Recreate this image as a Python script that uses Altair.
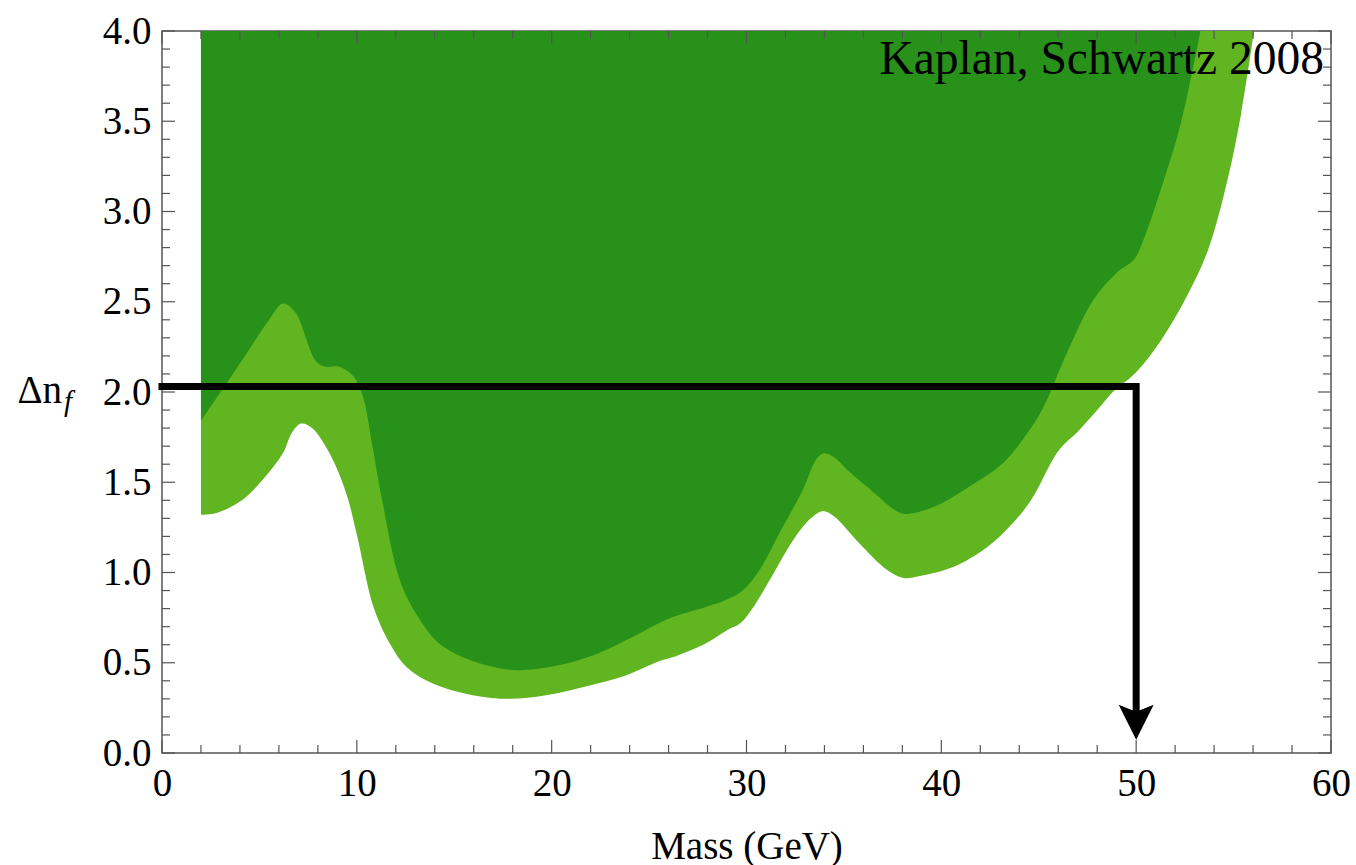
import altair as alt
import pandas as pd

# ---- data ----
light_x = [2.0, 2.8, 4.1, 5.3, 6.2, 6.7, 7.15, 7.7, 8.6, 9.45, 10.0, 10.85, 11.7, 12.56,
           13.93, 15.95, 17.85, 19.7, 21.8, 23.8, 25.55, 26.2, 27.95, 29.0, 29.7, 30.3, 31.2,
           32.4, 33.3, 33.9, 34.5, 35.8, 37.2, 38.05, 38.9, 40.6, 42.35, 43.55, 44.6, 45.8,
           46.3, 47.0, 48.0, 48.8, 50.0, 51.3, 52.6, 53.7, 54.7, 55.4, 56.05]
light_y = [1.32, 1.33, 1.40, 1.53, 1.66, 1.78, 1.825, 1.80, 1.66, 1.44, 1.21, 0.81, 0.605, 0.475,
           0.383, 0.32, 0.30, 0.32, 0.37, 0.43, 0.51, 0.53, 0.61, 0.68, 0.72, 0.80, 0.96,
           1.18, 1.30, 1.34, 1.31, 1.16, 1.015, 0.97, 0.98, 1.03, 1.14, 1.26, 1.40, 1.64,
           1.71, 1.78, 1.90, 2.00, 2.11, 2.29, 2.53, 2.79, 3.18, 3.55, 4.0]

dark_x = [2.0, 3.2, 4.5, 5.5, 6.2, 6.85, 7.9, 8.4, 9.1, 9.8, 10.3, 10.8, 11.3, 12.2, 13.0,
          14.2, 15.95, 18.0, 20.1, 22.1, 24.2, 25.9, 27.95, 29.0, 29.8, 30.7, 31.7, 32.9,
          33.6, 34.0, 34.6, 35.15, 36.35, 37.9, 38.6, 39.95, 41.5, 43.2, 44.4, 45.26, 46.46,
          47.8, 49.0, 49.9, 50.4, 51.26, 52.3, 53.3]
dark_y = [1.84, 2.03, 2.24, 2.40, 2.49, 2.44, 2.17, 2.14, 2.14, 2.09, 1.98, 1.70, 1.40, 0.96, 0.78,
          0.61, 0.51, 0.46, 0.48, 0.54, 0.645, 0.74, 0.81, 0.85, 0.90, 1.02, 1.22, 1.46,
          1.63, 1.66, 1.63, 1.57, 1.46, 1.33, 1.33, 1.38, 1.48, 1.61, 1.77, 1.92, 2.22,
          2.51, 2.66, 2.735, 2.85, 3.12, 3.49, 4.0]

arrow_x = [0, 50, 50]
arrow_y = [2.03, 2.03, 0.2]
arrow_head_x = [50]
arrow_head_y = [0.17]

x_major = [0, 10, 20, 30, 40, 50, 60]
x_minor = [v for v in range(0, 61, 2) if v % 10 != 0]
y_major = [i * 0.5 for i in range(9)]
y_minor = [round(i * 0.1, 1) for i in range(41) if i % 5 != 0]

TOP = 4.0
W, H = 1169, 722
DARK = "#279119"
LIGHT = "#61B520"
FONT = "'Liberation Serif', 'Times New Roman', Times, serif"
TICKC = "#555555"
FS = 39

xs = alt.Scale(domain=[0, 60], nice=False, zero=False)
ys = alt.Scale(domain=[0, 4], nice=False, zero=False)
X_AX = alt.Axis(values=x_major, format="d", ticks=False, domain=False, grid=False,
                labelFont=FONT, labelFontSize=FS, labelColor="black", labelPadding=11,
                labelFlush=False, labelOverlap=False, title="Mass (GeV)", titleFont=FONT,
                titleFontSize=FS, titleFontWeight="normal", titleColor="black", titlePadding=24)
Y_AX = alt.Axis(values=y_major, format=".1f", ticks=False, domain=False, grid=False,
                labelFont=FONT, labelFontSize=FS, labelColor="black", labelPadding=11,
                labelFlush=False, labelOverlap=False, title=None)

light_df = pd.DataFrame({"x": light_x, "y": light_y})
dark_df = pd.DataFrame({"x": dark_x, "y": dark_y})

light = alt.Chart(light_df).mark_area(color=LIGHT, interpolate="catmull-rom", opacity=1).encode(
    x=alt.X("x:Q", scale=xs, axis=X_AX), y=alt.Y("y:Q", scale=ys, axis=Y_AX), y2=alt.datum(TOP))
dark = alt.Chart(dark_df).mark_area(color=DARK, interpolate="catmull-rom", opacity=1).encode(
    x=alt.X("x:Q", scale=xs, axis=X_AX), y=alt.Y("y:Q", scale=ys, axis=Y_AX), y2=alt.datum(TOP))

def yticks(vals, length):
    df = pd.DataFrame({"y": vals})
    base = alt.Chart(df).mark_rule(color=TICKC, strokeWidth=1.2)
    left = base.encode(y=alt.Y("y:Q", scale=ys, axis=Y_AX), x=alt.value(0), x2=alt.value(length))
    right = base.encode(y=alt.Y("y:Q", scale=ys, axis=Y_AX), x=alt.value(W - length), x2=alt.value(W))
    return [left, right]

def xticks(vals, length):
    df = pd.DataFrame({"x": vals})
    base = alt.Chart(df).mark_rule(color=TICKC, strokeWidth=1.2)
    bottom = base.encode(x=alt.X("x:Q", scale=xs, axis=X_AX), y=alt.value(H), y2=alt.value(H - length))
    top = base.encode(x=alt.X("x:Q", scale=xs, axis=X_AX), y=alt.value(0), y2=alt.value(length))
    return [bottom, top]

ticks = yticks(y_major, 13) + yticks(y_minor, 8) + xticks(x_major, 13) + xticks(x_minor, 8)

arrow_df = pd.DataFrame({"x": arrow_x, "y": arrow_y, "i": list(range(len(arrow_x)))})
arrow = alt.Chart(arrow_df).mark_line(color="black", strokeWidth=7, strokeCap="square",
                                      strokeJoin="miter").encode(
    x=alt.X("x:Q", scale=xs, axis=X_AX), y=alt.Y("y:Q", scale=ys, axis=Y_AX), order="i:O")

head_df = pd.DataFrame({"x": arrow_head_x, "y": arrow_head_y})
head = alt.Chart(head_df).mark_point(
    shape="M0,1 L-1,-1 L0,-0.6 L1,-1 Z", size=1225, filled=True, color="black", opacity=1,
    strokeWidth=0).encode(x=alt.X("x:Q", scale=xs, axis=X_AX), y=alt.Y("y:Q", scale=ys, axis=Y_AX))

label_df = pd.DataFrame({"t": ["Kaplan, Schwartz 2008"]})
credit = alt.Chart(label_df).mark_text(font=FONT, fontSize=47.5, color="black", align="right",
                                       baseline="alphabetic").encode(
    text="t:N", x=alt.value(W - 7), y=alt.value(42.6))

dn_df = pd.DataFrame({"t": ["\u0394n"]})
dn = alt.Chart(dn_df).mark_text(font=FONT, fontSize=FS, color="black", align="right",
                                baseline="alphabetic").encode(
    text="t:N", x=alt.value(-100), y=alt.value(372))
f_df = pd.DataFrame({"t": ["f"]})
fsub = alt.Chart(f_df).mark_text(font=FONT, fontSize=29, fontStyle="italic", color="black",
                                 align="left", baseline="alphabetic").encode(
    text="t:N", x=alt.value(-98), y=alt.value(380))

chart = alt.layer(light, dark, *ticks, arrow, head, credit, dn, fsub).properties(
    width=W, height=H, autosize=alt.AutoSizeParams(type="none"),
    padding={"left": 162, "top": 31, "right": 25, "bottom": 112}, background="white"
).configure_view(stroke="#555555", strokeWidth=1.5).configure_axis(
    labelFont=FONT, titleFont=FONT).configure_text(font=FONT)

chart.save("out.html", embed_options={"renderer": "svg", "actions": False})
